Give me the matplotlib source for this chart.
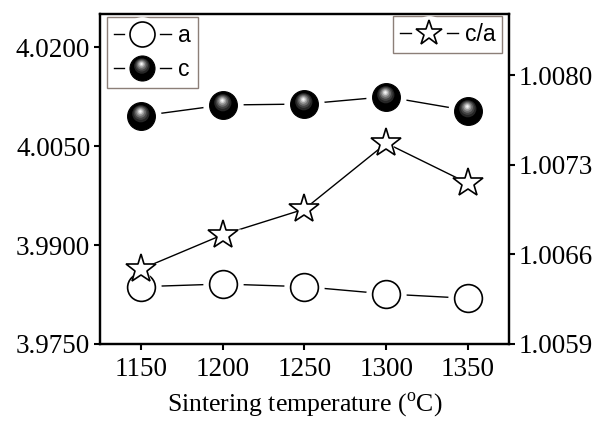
import numpy as np
import matplotlib
matplotlib.use("Agg")
import matplotlib.pyplot as plt
from matplotlib.path import Path
from matplotlib.lines import Line2D
from matplotlib.legend_handler import HandlerTuple

# lattice parameters vs sintering temperature
temps = [1150, 1200, 1250, 1300, 1350]
a_vals = [3.98368, 3.98409, 3.98368, 3.98258, 3.98192]
c_vals = [4.00955, 4.01121, 4.01136, 4.01247, 4.01035]
ca_vals = [1.006485, 1.006754, 1.006955, 1.007470, 1.007156]

left_ticks = [3.9750, 3.9900, 4.0050, 4.0200]
right_ticks = [1.0059, 1.0066, 1.0073, 1.0080]

plt.rcParams['mathtext.fontset'] = 'custom'
plt.rcParams['mathtext.rm'] = 'Liberation Serif'
serif = 'Liberation Serif'
sans = 'Liberation Sans'

MS = 20          # marker size
HALO = 29        # white gap around markers
LW = 1.0


def shifted_circle(cx, cy, r):
    # circle marker offset from the centre; the two anchor moves keep the
    # marker scale equal to that of a plain 'o'
    circ = Path.circle(center=(cx, cy), radius=r)
    verts = np.vstack([[[-1, -1], [1, 1]], circ.vertices])
    codes = np.concatenate([[Path.MOVETO, Path.MOVETO], circ.codes])
    return Path(verts, codes)


# shading for the solid "ball" marker
ball_layers = [
    (0.62, -0.05, 0.20, '#262626'),
    (0.50, -0.06, 0.26, '#444444'),
    (0.39, -0.07, 0.30, '#6e6e6e'),
    (0.28, -0.08, 0.33, '#9c9c9c'),
    (0.18, -0.08, 0.35, '#cccccc'),
    (0.09, -0.08, 0.36, '#f5f5f5'),
]

fig = plt.figure(figsize=(6.05, 4.21), dpi=100)
ax = fig.add_axes([0.1653, 0.1829, 0.6760, 0.7838])
ax2 = ax.twinx()

# a
ax.plot(temps, a_vals, '-', color='black', lw=LW, zorder=2)
ax.plot(temps, a_vals, 'o', ls='none', ms=HALO, mfc='white', mec='none', zorder=3)
ax.plot(temps, a_vals, 'o', ls='none', ms=MS, mfc='white', mec='black', mew=1.2, zorder=4)

# c
ax.plot(temps, c_vals, '-', color='black', lw=LW, zorder=2)
ax.plot(temps, c_vals, 'o', ls='none', ms=HALO, mfc='white', mec='none', zorder=3)
ax.plot(temps, c_vals, 'o', ls='none', ms=MS, mfc='black', mec='black', mew=0.8, zorder=4)
for r, cx, cy, col in ball_layers:
    ax.plot(temps, c_vals, ls='none', marker=shifted_circle(cx, cy, r), ms=MS,
            mfc=col, mec='none', mew=0, zorder=5)

# c/a on the right axis
ax2.plot(temps, ca_vals, '-', color='black', lw=LW, zorder=2)
ax2.plot(temps, ca_vals, '*', ls='none', ms=HALO - 2, mfc='white', mec='none', zorder=3)
ax2.plot(temps, ca_vals, '*', ls='none', ms=MS + 2, mfc='white', mec='black', mew=1.2, zorder=4)

ax.set_xlim(1125, 1375)
ax.set_ylim(3.975, 4.025)
ax2.set_ylim(1.0059, 1.00848)
ax.set_xticks(temps)
ax.set_yticks(left_ticks)
ax.set_yticklabels([f"{v:.4f}" for v in left_ticks])
ax2.set_yticks(right_ticks)
ax2.set_yticklabels([f"{v:.4f}" for v in right_ticks])

for a_ in (ax, ax2):
    for s in a_.spines.values():
        s.set_linewidth(1.6)
    a_.tick_params(direction='out', length=4.5, width=1.5, labelsize=19.5, pad=2.5)
    for lab in a_.get_xticklabels() + a_.get_yticklabels():
        lab.set_fontfamily(serif)
ax.tick_params(axis='x', pad=5)

ax.set_xlabel(r'Sintering temperature ($^{\rm o}$C)', fontsize=18.5,
              fontfamily=serif, labelpad=6)

# legends
LMS = 18
LHALO = 25
line_h = Line2D([], [], color='black', lw=LW)
halo_h = Line2D([], [], ls='none', marker='o', ms=LHALO, mfc='white', mec='none')
a_h = Line2D([], [], ls='none', marker='o', ms=LMS, mfc='white', mec='black', mew=1.2)
c_base = Line2D([], [], ls='none', marker='o', ms=LMS, mfc='black', mec='black', mew=0.8)
c_h = [line_h, halo_h, c_base] + [
    Line2D([], [], ls='none', marker=shifted_circle(cx, cy, r), ms=LMS, mfc=col,
           mec='none', mew=0) for r, cx, cy, col in ball_layers]
star_h = Line2D([], [], ls='none', marker='*', ms=LMS + 1, mfc='white', mec='black', mew=1.2)

leg_kw = dict(handler_map={tuple: HandlerTuple(ndivide=1, pad=0)},
              prop={'family': sans, 'size': 16.5}, fancybox=False, framealpha=1,
              edgecolor='#8c7f78', handlelength=2.5, handletextpad=0.3,
              borderpad=0.3, borderaxespad=0, labelspacing=0.5)

leg1 = ax.legend([(line_h, halo_h, a_h), tuple(c_h)], ['a', 'c'],
                 loc='upper left', bbox_to_anchor=(0.017, 0.991), **leg_kw)
leg1.get_frame().set_linewidth(1.0)
leg2 = ax2.legend([(line_h, halo_h, star_h)], ['c/a'],
                  loc='upper right', bbox_to_anchor=(0.983, 0.994), **leg_kw)
leg2.get_frame().set_linewidth(1.0)

fig.savefig('out.png', dpi=100)
